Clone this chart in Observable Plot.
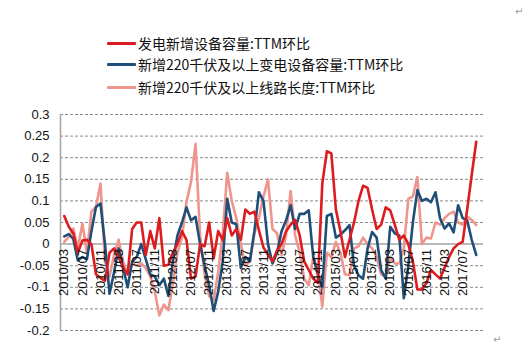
<!DOCTYPE html>
<html><head><meta charset="utf-8">
<script src="https://cdn.jsdelivr.net/npm/d3@7"></script>
<script src="https://cdn.jsdelivr.net/npm/@observablehq/plot@0.6"></script>
<style>
html,body{margin:0;padding:0;background:#fff;}
#wrap{position:relative;width:524px;height:356px;overflow:hidden;background:#fff;}
#legend{position:relative;width:524px;height:100px;}
.item{position:absolute;left:107px;height:20px;display:flex;align-items:center;font-family:"Noto Sans CJK SC","Noto Sans",sans-serif;font-size:14px;color:#111;white-space:nowrap;}
.swatch{width:29px;height:3px;margin-right:2px;border-radius:1px;}
.pm{position:absolute;color:#9a9a9a;font-family:"DejaVu Sans",sans-serif;font-size:10px;}
#chart svg{display:block;}
</style></head><body>
<div id="wrap"><div id="legend"></div><div id="chart"></div>
<div class="pm" style="left:515px;top:6px;">↵</div>
<div class="pm" style="left:493px;top:334px;">↵</div>
</div>
<script>
const months = ["2010/03","2010/04","2010/05","2010/06","2010/07","2010/08","2010/09","2010/10","2010/11","2010/12",
"2011/01","2011/02","2011/03","2011/04","2011/05","2011/06","2011/07","2011/08","2011/09","2011/10","2011/11","2011/12",
"2012/01","2012/02","2012/03","2012/04","2012/05","2012/06","2012/07","2012/08","2012/09","2012/10","2012/11","2012/12",
"2013/01","2013/02","2013/03","2013/04","2013/05","2013/06","2013/07","2013/08","2013/09","2013/10","2013/11","2013/12",
"2014/01","2014/02","2014/03","2014/04","2014/05","2014/06","2014/07","2014/08","2014/09","2014/10","2014/11","2014/12",
"2015/01","2015/02","2015/03","2015/04","2015/05","2015/06","2015/07","2015/08","2015/09","2015/10","2015/11","2015/12",
"2016/01","2016/02","2016/03","2016/04","2016/05","2016/06","2016/07","2016/08","2016/09","2016/10","2016/11","2016/12",
"2017/01","2017/02","2017/03","2017/04","2017/05","2017/06","2017/07","2017/08","2017/09","2017/10"];

const seriesNames = ["发电新增设备容量:TTM环比","新增220千伏及以上变电设备容量:TTM环比","新增220千伏及以上线路长度:TTM环比"];
const seriesColors = ["#dd1c1f","#1f4e78","#ef958d"];

const genCap = [0.065,0.04,0.025,-0.02,0.008,0.01,0.0,-0.07,-0.078,-0.085,
-0.02,-0.01,-0.03,-0.055,-0.07,0.035,0.05,0.05,-0.025,0.03,
-0.01,0.06,-0.05,-0.048,-0.02,0.0,0.03,0.01,-0.08,-0.075,
0.0,-0.005,0.05,-0.033,0.03,0.01,0.06,0.02,0.035,0.01,
0.08,0.07,0.075,0.032,-0.008,-0.025,-0.04,-0.015,0.0,0.03,
0.045,0.056,0.02,-0.04,-0.06,-0.08,-0.09,0.14,0.215,0.21,
0.08,0.03,-0.03,0.01,0.05,0.1,0.135,0.13,0.08,0.035,
0.045,0.085,0.078,0.045,0.01,0.02,0.0,-0.04,-0.105,-0.105,
-0.09,-0.06,-0.07,-0.08,-0.055,-0.03,-0.01,0.0,0.005,0.08,
0.16,0.237];

const subCap = [0.018,0.023,0.012,-0.038,-0.03,-0.035,0.03,0.086,0.094,0.0,
-0.115,-0.065,-0.01,-0.055,-0.1,-0.04,-0.03,0.0,-0.035,-0.07,
-0.075,-0.095,-0.08,-0.12,-0.04,0.02,0.05,0.085,0.055,0.063,
0.0,-0.05,-0.095,-0.155,-0.11,-0.04,0.105,0.05,0.046,-0.055,
-0.03,-0.04,0.03,0.12,0.1,0.0,-0.045,-0.02,0.03,0.055,
0.09,0.035,0.07,0.07,0.078,-0.03,-0.07,-0.1,0.065,0.07,
0.015,0.022,0.032,0.044,-0.05,-0.072,-0.08,-0.01,0.028,0.015,
-0.06,-0.08,0.04,0.025,0.02,-0.125,-0.05,0.05,0.125,0.1,
0.105,0.097,0.12,0.06,0.036,0.048,0.027,0.09,0.06,0.055,
0.01,-0.025];

const lineLen = [0.005,0.017,0.036,-0.01,0.048,-0.02,0.075,0.086,0.14,-0.04,
-0.075,-0.025,0.01,-0.04,-0.07,-0.045,-0.05,-0.045,-0.055,-0.075,
-0.11,-0.165,-0.14,-0.153,-0.09,-0.02,0.015,0.098,0.144,0.232,
0.02,-0.07,-0.12,-0.13,-0.065,0.025,0.165,0.1,0.06,0.0,
-0.05,-0.04,0.025,0.06,0.11,0.15,0.035,0.025,-0.025,0.02,
0.123,0.02,-0.02,-0.08,-0.095,-0.03,-0.06,-0.145,-0.02,-0.03,
0.005,-0.02,-0.07,-0.072,-0.01,-0.005,0.015,0.0,-0.01,-0.03,
-0.07,-0.075,-0.03,-0.045,-0.045,-0.01,0.105,0.11,0.155,0.0,
0.015,0.013,0.05,0.045,0.06,0.07,0.075,0.05,0.045,0.063,
0.056,0.044];

const xTickLabels = ["2010/03","2010/07","2010/11","2011/03","2011/07","2011/11","2012/03","2012/07","2012/11",
"2013/03","2013/07","2013/11","2014/03","2014/07","2014/11","2015/03","2015/07","2015/11","2016/03","2016/07",
"2016/11","2017/03","2017/07"];
const yTicks = [0.3,0.25,0.2,0.15,0.1,0.05,0,-0.05,-0.1,-0.15,-0.2];
const yTickLabels = ["0.3","0.25","0.2","0.15","0.1","0.05","0","-0.05","-0.1","-0.15","-0.2"];

// legend
const legend = document.getElementById("legend");
const legendTops = [33, 54, 77];
seriesNames.forEach((name, k) => {
  const it = document.createElement("div");
  it.className = "item";
  it.style.top = legendTops[k] + "px";
  const sw = document.createElement("span");
  sw.className = "swatch";
  sw.style.background = seriesColors[k];
  const tx = document.createElement("span");
  tx.textContent = name;
  it.appendChild(sw); it.appendChild(tx);
  legend.appendChild(it);
});

const mk = arr => arr.map((v, i) => ({month: months[i], value: v}));
const allSeries = [genCap, subCap, lineLen];

const plot = Plot.plot({
  width: 524, height: 256,
  marginTop: 14, marginBottom: 26, marginLeft: 60, marginRight: 41,
  x: {type: "point", domain: months, range: [61.5, 478], axis: null},
  y: {domain: [-0.2, 0.3], axis: null},
  style: {fontFamily: "'Liberation Sans', Arial, sans-serif", fontSize: "13px", background: "#fff", overflow: "visible"},
  marks: [
    Plot.ruleY(yTicks.filter(d => d !== 0), {y: d => d, stroke: "#8a8a8a", strokeDasharray: "3,2", strokeWidth: 1}),
    Plot.ruleY([0], {y: d => d, stroke: "#a3a3a3", strokeWidth: 1.5}),
    Plot.frame({anchor: "left", stroke: "#a3a3a3", strokeWidth: 1.5}),
    Plot.text(yTicks, {y: d => d, text: (d, i) => yTickLabels[i], frameAnchor: "left", textAnchor: "end", dx: -11, fill: "#111", fontSize: 13}),
    Plot.line(mk(lineLen), {x: "month", y: "value", stroke: seriesColors[2], strokeWidth: 2.6}),
    Plot.line(mk(subCap), {x: "month", y: "value", stroke: seriesColors[1], strokeWidth: 2.6}),
    Plot.line(mk(genCap), {x: "month", y: "value", stroke: seriesColors[0], strokeWidth: 2.6}),
    Plot.text(xTickLabels, {x: d => d, y: d => 0, text: d => d, rotate: -90, textAnchor: "end", dy: 5, fill: "#111", fontSize: 13})
  ]
});
document.getElementById("chart").appendChild(plot);
</script>
</body></html>
